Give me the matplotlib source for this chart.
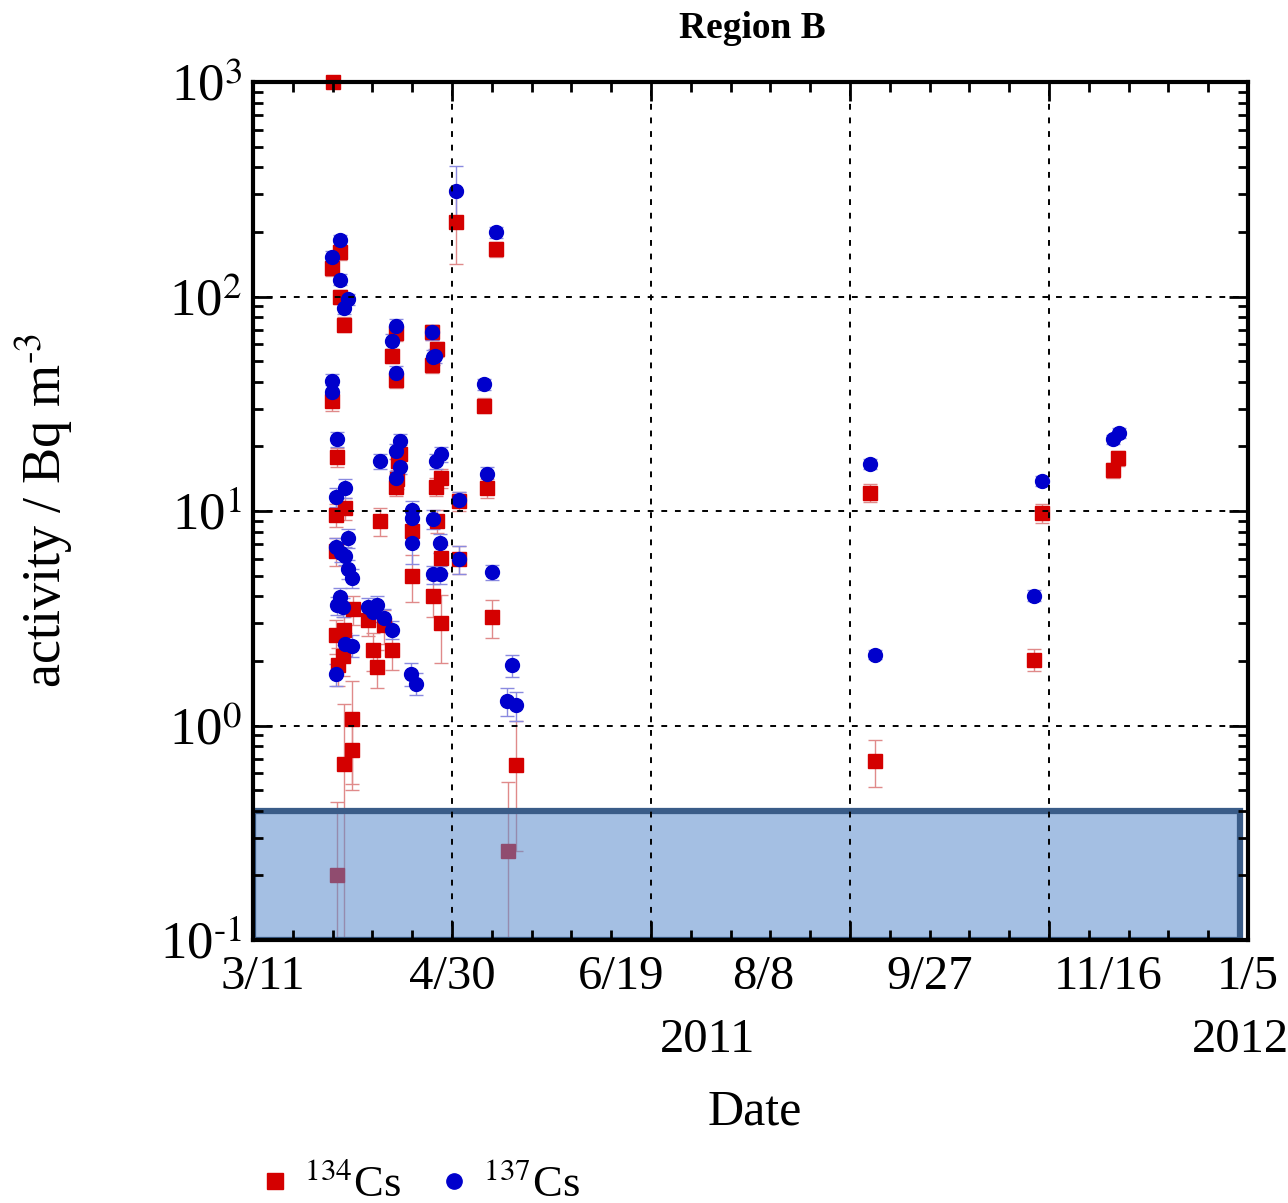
import numpy as np
import matplotlib
matplotlib.use("Agg")
import matplotlib.pyplot as plt
import matplotlib.dates as mdates
from matplotlib.patches import Rectangle
from matplotlib.lines import Line2D
from matplotlib.ticker import FuncFormatter, LogLocator, NullFormatter
from datetime import datetime, timedelta

plt.rcParams['font.family'] = ['Liberation Serif', 'DejaVu Serif']
plt.rcParams['mathtext.fontset'] = 'stix'

# start of the axis and sampling days (days after 3/11/2011)
start = datetime(2011, 3, 11)

cs134_day = [24.0, 61.1, 73.2, 26.2, 23.8, 26.2, 27.4, 43.1, 41.8, 43.0,
             53.9, 55.4, 53.9, 69.7, 23.8, 25.2, 43.6, 44.2, 43.3, 43.1,
             56.6, 55.2, 70.6, 62.2, 27.6, 25.0, 38.3, 48.0, 48.0, 55.6,
             56.6, 54.2, 56.6, 62.2, 72.2, 25.0, 30.2, 25.0, 27.4, 27.2,
             25.7, 34.8, 39.6, 36.3, 37.3, 42.0, 30.0, 30.0, 27.4, 79.2,
             25.2, 76.8, 186.0, 187.5, 238.0, 235.5, 259.3, 260.8]
cs134_val = [1000, 222, 166, 161, 136, 99.8, 74, 67.8, 53, 40.8,
             68, 57, 48, 31, 32.6, 17.8, 17.1, 18.5, 14.1, 13.0,
             14.2, 13.0, 12.8, 11.1, 10.3, 9.58, 9.0, 8.1, 5.0, 9.0,
             6.04, 4.0, 3.01, 6.0, 3.2, 6.53, 3.48, 2.63, 2.78, 2.12,
             1.91, 3.09, 2.93, 2.24, 1.88, 2.26, 1.07, 0.767, 0.665, 0.653,
             0.2, 0.26, 12.2, 0.687, 9.8, 2.03, 15.5, 17.7]
# relative uncertainty in percent
cs134_err = [5, 36, 8, 8, 8, 8, 8, 8, 8, 8,
             8, 8, 8, 8, 10, 10, 10, 10, 10, 10,
             10, 10, 10, 10, 12, 12, 15, 12, 25, 12,
             15, 20, 35, 15, 20, 15, 15, 18, 15, 20,
             20, 15, 18, 20, 20, 20, 50, 35, 90, 60,
             120, 110, 10, 25, 10, 12, 8, 8]

cs137_day = [61.1, 73.2, 26.2, 23.8, 26.2, 28.8, 27.4, 43.1, 41.8, 43.0,
             53.9, 54.9, 54.2, 69.7, 23.8, 23.8, 25.2, 38.3, 44.3, 43.0,
             44.3, 43.0, 55.2, 56.6, 70.6, 62.2, 27.6, 25.0, 48.0, 48.0,
             48.0, 54.2, 56.4, 54.2, 56.4, 62.2, 72.2, 28.7, 25.0, 26.5,
             27.7, 28.7, 30.0, 26.2, 25.4, 27.0, 27.7, 30.0, 25.0, 34.7,
             37.3, 36.3, 39.6, 42.0, 47.8, 49.1, 78.2, 76.5, 79.2,
             186.0, 187.5, 238.0, 235.5, 259.3, 261.1]
cs137_val = [311, 200, 183, 153, 120, 97, 88, 72.8, 62, 44,
             68, 53, 52, 39, 40.4, 36, 21.6, 17.1, 21.2, 19.1,
             16.1, 14.2, 17.1, 18.4, 14.9, 11.3, 12.8, 11.6, 10.1, 9.25,
             7.1, 9.2, 7.1, 5.06, 5.06, 6.0, 5.2, 7.5, 6.77, 6.4,
             6.2, 5.37, 4.86, 3.96, 3.63, 3.57, 2.4, 2.36, 1.73, 3.57,
             3.65, 3.38, 3.17, 2.8, 1.74, 1.57, 1.91, 1.30, 1.24,
             16.6, 2.14, 13.8, 4.03, 21.6, 23.1]
cs137_err = [30, 6, 6, 6, 6, 6, 6, 8, 8, 8,
             8, 8, 8, 6, 8, 8, 8, 8, 8, 8,
             8, 8, 8, 8, 8, 8, 10, 10, 10, 10,
             20, 10, 10, 10, 10, 15, 8, 10, 10, 10,
             10, 10, 10, 10, 10, 10, 12, 12, 12, 10,
             10, 10, 10, 10, 12, 12, 12, 15, 15,
             5, 5, 5, 6, 5, 5]

# date labels as printed under the axis (day offsets where they sit)
tick_labels = ['3/11', '4/30', '6/19', '8/8', '9/27', '11/16', '1/5']
tick_days = [3, 60, 111, 154, 204, 258, 300]

grid_step = 60        # days between grid lines
axis_days = 300
box_days = 297.5
box_lo, box_hi = 0.1, 0.4


def to_dates(days):
    return [start + timedelta(days=d) for d in days]


fig = plt.figure(figsize=(12.88, 12.03), dpi=100)
ax = fig.add_axes([0.1964, 0.2186, 0.7725, 0.7132])

for day, val, err, col, ecol, mk, ms in [
        (cs134_day, cs134_val, cs134_err, '#d40000', '#e08a8a', 's', 10.5),
        (cs137_day, cs137_val, cs137_err, '#0000cc', '#8a8ae0', 'o', 10)]:
    v = np.array(val)
    e = v * np.array(err) / 100.0
    ax.errorbar(to_dates(day), v, yerr=e, fmt='none', ecolor=ecol,
                elinewidth=1, capsize=5, capthick=1, zorder=2)
    ax.plot(to_dates(day), v, mk, color=col, ms=ms, mec=col, ls='',
            clip_on=False, zorder=2.1)

# detection-limit band
x0 = mdates.date2num(start)
ax.add_patch(Rectangle((x0, box_lo), box_days, box_hi - box_lo,
                       facecolor=(0.35, 0.55, 0.8, 0.55), edgecolor='#3a5c88',
                       lw=4.5, zorder=2.2))

ax.set_yscale('log')
ax.set_ylim(0.1, 1000)
ax.set_xlim(x0, x0 + axis_days)

ax.set_xticks([x0 + d for d in range(0, axis_days + 1, grid_step)])
ax.set_xticks([x0 + d for d in range(0, axis_days + 1, 12)], minor=True)
ax.set_xticklabels([])
ax.yaxis.set_minor_locator(LogLocator(base=10, subs=np.arange(2, 10)))
ax.yaxis.set_minor_formatter(NullFormatter())
ax.yaxis.set_major_formatter(FuncFormatter(
    lambda v, p: '$\\mathdefault{10^{\\text{%d}}}$' % round(np.log10(v))))

ax.set_axisbelow(False)
ax.grid(True, which='major', color='black', ls=(0, (3, 4)), lw=1.4)
ax.tick_params(which='both', direction='in', top=True, right=True, width=2)
ax.tick_params(which='major', length=14, pad=8)
ax.tick_params(axis='y', which='major', labelsize=38)
ax.tick_params(which='minor', length=7)
for s in ax.spines.values():
    s.set_linewidth(3)

for d, lab in zip(tick_days, tick_labels):
    ax.text(x0 + d, -0.017, lab, transform=ax.get_xaxis_transform(),
            ha='center', va='top', fontsize=35)

fig.text(0.5497, 0.1355, '2011', ha='center', va='center', fontsize=35)
fig.text(0.9627, 0.1355, '2012', ha='center', va='center', fontsize=35)
fig.text(0.586, 0.0756, 'Date', ha='center', va='center', fontsize=36)
fig.text(0.035, 0.576, 'activity / Bq m$^{\\text{-3}}$', rotation=90, ha='center',
         va='center', fontsize=39)
fig.text(0.584, 0.976, 'Region B', ha='center', va='center', fontsize=27,
         fontweight='bold')

handles = [Line2D([], [], marker='s', ls='', color='#d40000', ms=12),
           Line2D([], [], marker='o', ls='', color='#0000cc', ms=11)]
fig.legend(handles, ['$^{134}$Cs', '$^{137}$Cs'], loc='lower left',
           bbox_to_anchor=(0.172, -0.035), ncol=2, frameon=False,
           fontsize=32, handlelength=0.6, handletextpad=0.35, columnspacing=0.9)

fig.savefig('out.png', dpi=100)
